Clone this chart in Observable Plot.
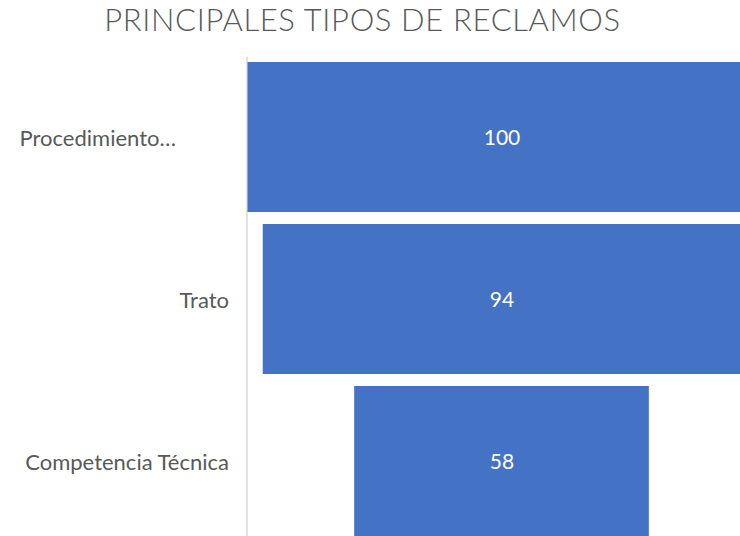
<!DOCTYPE html>
<html>
<head>
<meta charset="utf-8">
<script src="https://cdn.jsdelivr.net/npm/d3@7"></script>
<script src="https://cdn.jsdelivr.net/npm/@observablehq/plot@0.6"></script>
<style>
  html, body { margin: 0; padding: 0; background: #fff; }
  #wrap { width: 740px; height: 536px; overflow: hidden; position: relative; }
  #title { height: 48px; width: 725px; text-align: center; font-family: Lato, sans-serif; font-weight: 300;
           font-size: 31px; letter-spacing: 0.65px; color: #595959; line-height: 38px; white-space: nowrap; }
</style>
</head>
<body>
<div id="wrap">
  <div id="title">PRINCIPALES TIPOS DE RECLAMOS</div>
  <div id="chart"></div>
</div>
<script>
const categories = ["Procedimiento…", "Trato", "Competencia Técnica"];
const values = [100, 94, 58];

const data = categories.map((c, i) => ({cat: c, value: values[i]}));
const maxV = d3.max(values);

const chart = Plot.plot({
  width: 740,
  height: 488,
  marginLeft: 246.5,
  marginRight: 0,
  marginTop: 9,
  marginBottom: 0,
  style: {fontFamily: "Lato, sans-serif", overflow: "hidden", background: "#fff"},
  x: {domain: [-maxV / 2, maxV / 2], range: [247.5, 755.5], axis: null},
  y: {domain: categories, range: [8, 494], paddingInner: 0.072, paddingOuter: 0.036, axis: null},
  marks: [
    Plot.frame({anchor: "left", stroke: "#d9d9d9", strokeWidth: 1.5}),
    Plot.barX(data, {x1: d => -d.value / 2, x2: d => d.value / 2, y: "cat", fill: "#4472C4"}),
    Plot.text(data, {x: 0, y: "cat", text: d => String(d.value), fill: "#fff", fontSize: 21, dy: 1}),
    Plot.axisY({ticks: categories.slice(1), tickSize: 0, tickPadding: 18, fontSize: 22, color: "#595959", label: null, dy: 1.5}),
    Plot.axisY({ticks: categories.slice(0, 1), tickSize: 0, tickPadding: 71, fontSize: 22, color: "#595959", label: null, dy: 1.5})
  ]
});
document.getElementById("chart").appendChild(chart);
</script>
</body>
</html>
